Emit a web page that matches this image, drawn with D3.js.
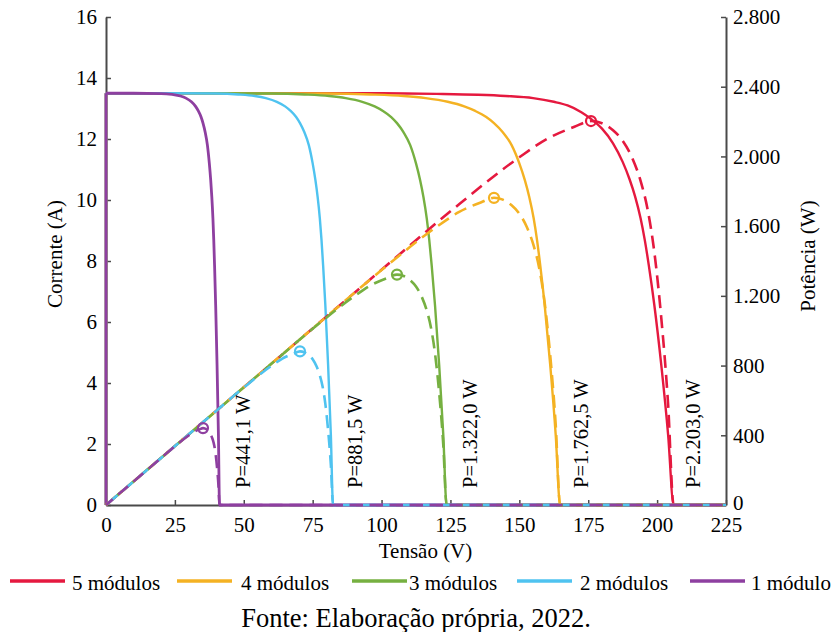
<!DOCTYPE html>
<html>
<head>
<meta charset="utf-8">
<script src="https://cdn.jsdelivr.net/npm/d3@7"></script>
<style>
  html, body { margin: 0; padding: 0; background: #fff; }
</style>
</head>
<body>
<svg id="chart" width="832" height="632"></svg>
<script>
// ---------------- data ----------------
const seriesNames = ["5 módulos", "4 módulos", "3 módulos", "2 módulos", "1 módulo"];
const seriesColors = ["#e5193f", "#f4b223", "#76b041", "#4fc3f0", "#8e3fa0"];

// I-V curves: voltage (V) and current (A)
const ivVolt5 = [0, 0, 50, 100, 120, 135, 145, 155, 162.5, 167.5, 172.5, 176, 180, 184, 187.5, 190, 192, 194, 195.5, 197, 199, 201.5, 204, 206, 225];
const ivVolt4 = [0, 0, 40, 80, 96, 108, 116, 124, 130, 134, 138, 140.8, 144, 147.2, 150, 152, 153.6, 155.2, 156.4, 157.6, 159.2, 161.2, 163.2, 164.8, 225];
const ivVolt3 = [0, 0, 30, 60, 72, 81, 87, 93, 97.5, 100.5, 103.5, 105.6, 108, 110.4, 112.5, 114, 115.2, 116.4, 117.3, 118.2, 119.4, 120.9, 122.4, 123.6, 225];
const ivVolt2 = [0, 0, 20, 40, 48, 54, 58, 62, 65, 67, 69, 70.4, 72, 73.6, 75, 76, 76.8, 77.6, 78.2, 78.8, 79.6, 80.6, 81.6, 82.4, 225];
const ivVolt1 = [0, 0, 10, 20, 24, 27, 29, 31, 32.5, 33.5, 34.5, 35.2, 36, 36.8, 37.5, 38, 38.4, 38.8, 39.1, 39.4, 39.8, 40.3, 40.8, 41.2, 225];
const ivAmp5 = [0, 13.5, 13.5, 13.5, 13.48, 13.45, 13.41, 13.34, 13.22, 13.1, 12.88, 12.66, 12.34, 11.86, 11.25, 10.68, 10.12, 9.4, 8.7, 7.85, 6.55, 4.6, 2.3, 0, 0];
const ivAmp4 = [0, 13.5, 13.5, 13.49, 13.46, 13.41, 13.34, 13.22, 13.07, 12.92, 12.72, 12.52, 12.22, 11.8, 11.2, 10.65, 10.1, 9.4, 8.7, 7.85, 6.55, 4.6, 2.3, 0, 0];
const ivAmp3 = [0, 13.5, 13.5, 13.49, 13.46, 13.41, 13.34, 13.22, 13.07, 12.92, 12.72, 12.52, 12.22, 11.8, 11.2, 10.65, 10.1, 9.4, 8.7, 7.85, 6.55, 4.6, 2.3, 0, 0];
const ivAmp2 = [0, 13.5, 13.5, 13.49, 13.46, 13.41, 13.34, 13.22, 13.07, 12.92, 12.72, 12.52, 12.22, 11.8, 11.2, 10.65, 10.1, 9.4, 8.7, 7.85, 6.55, 4.6, 2.3, 0, 0];
const ivAmp1 = [0, 13.5, 13.5, 13.49, 13.46, 13.41, 13.34, 13.22, 13.07, 12.92, 12.72, 12.52, 12.22, 11.8, 11.2, 10.65, 10.1, 9.4, 8.7, 7.85, 6.55, 4.6, 2.3, 0, 0];

// P-V curves: voltage (V) and power (W)
const pvVolt5 = [0, 50, 100, 125, 150, 160, 170, 176, 180, 184, 187.5, 191, 194, 196.5, 199, 201.5, 204, 206, 225];
const pvVolt4 = [0, 40, 80, 100, 120, 128, 136, 140.8, 144, 147.2, 150, 152.8, 155.2, 157.2, 159.2, 161.2, 163.2, 164.8, 225];
const pvVolt3 = [0, 30, 60, 75, 90, 96, 102, 105.6, 108, 110.4, 112.5, 114.6, 116.4, 117.9, 119.4, 120.9, 122.4, 123.6, 225];
const pvVolt2 = [0, 20, 40, 50, 60, 64, 68, 70.4, 72, 73.6, 75, 76.4, 77.6, 78.6, 79.6, 80.6, 81.6, 82.4, 225];
const pvVolt1 = [0, 10, 20, 25, 30, 32, 34, 35.2, 36, 36.8, 37.5, 38.2, 38.8, 39.3, 39.8, 40.3, 40.8, 41.2, 225];
const pvWatt5 = [0, 675, 1350, 1685, 1995, 2100, 2170, 2203, 2190, 2150, 2090, 1990, 1860, 1700, 1450, 1075, 575, 0, 0];
const pvWatt4 = [0, 540, 1080, 1348, 1596, 1680, 1736, 1762.5, 1752, 1720, 1672, 1592, 1488, 1360, 1160, 860, 460, 0, 0];
const pvWatt3 = [0, 405, 810, 1011, 1197, 1260, 1302, 1322, 1314, 1290, 1254, 1194, 1116, 1020, 870, 645, 345, 0, 0];
const pvWatt2 = [0, 270, 540, 674, 798, 840, 868, 881.5, 876, 860, 836, 796, 744, 680, 580, 430, 230, 0, 0];
const pvWatt1 = [0, 135, 270, 337, 399, 420, 434, 441.1, 438, 430, 418, 398, 372, 340, 290, 215, 115, 0, 0];

// maximum power points
const mppVolt = [176, 140.8, 105.6, 70.4, 35.2];
const mppWatt = [2203.0, 1762.5, 1322.0, 881.5, 441.1];
const mppText = ["P=2.203,0 W", "P=1.762,5 W", "P=1.322,0 W", "P=881,5 W", "P=441,1 W"];
const mppTextVolt = [215.6, 174.9, 134.6, 92.9, 52.3];
const mppTextAmp = 0.56;

const xTicks = [0, 25, 50, 75, 100, 125, 150, 175, 200, 225];
const yTicks = [0, 2, 4, 6, 8, 10, 12, 14, 16];
const y2Ticks = [0, 400, 800, 1200, 1600, 2000, 2400, 2800];

const xTitle = "Tensão (V)";
const yTitle = "Corrente (A)";
const y2Title = "Potência (W)";
const sourceText = "Fonte: Elaboração própria, 2022.";

// ---------------- drawing ----------------
const ivVolts = [ivVolt5, ivVolt4, ivVolt3, ivVolt2, ivVolt1];
const ivAmps = [ivAmp5, ivAmp4, ivAmp3, ivAmp2, ivAmp1];
const pvVolts = [pvVolt5, pvVolt4, pvVolt3, pvVolt2, pvVolt1];
const pvWatts = [pvWatt5, pvWatt4, pvWatt3, pvWatt2, pvWatt1];

const svg = d3.select("#chart");
const X0 = 106, X1 = 726, Y0 = 505, Y1 = 17;

const x = d3.scaleLinear().domain([0, 225]).range([X0, X1]);
const y = d3.scaleLinear().domain([0, 16]).range([Y0, Y1]);
const y2 = d3.scaleLinear().domain([0, 2800]).range([Y0, Y1]);

const ptLocale = d3.formatLocale({decimal: ",", thousands: ".", grouping: [3], currency: ["R$", ""]});
const fmtThousands = ptLocale.format(",d");

const axisColor = "#4a4a4a";

function styleText(sel, size) {
  return sel.attr("font-family", "Liberation Serif")
    .attr("font-size", size)
    .attr("style", "font-family:'Liberation Serif';font-size:" + size + "px")
    .attr("fill", "#000");
}

// axes
const gx = svg.append("g").attr("transform", `translate(0,${Y0})`)
  .call(d3.axisBottom(x).tickValues(xTicks).tickSizeInner(-5).tickSizeOuter(0).tickPadding(12));
const gy = svg.append("g").attr("transform", `translate(${X0},0)`)
  .call(d3.axisLeft(y).tickValues(yTicks).tickSizeInner(-5).tickSizeOuter(0).tickPadding(9));
const gy2 = svg.append("g").attr("transform", `translate(${X1},0)`)
  .call(d3.axisRight(y2).tickValues(y2Ticks).tickFormat(fmtThousands).tickSizeInner(-5).tickSizeOuter(0).tickPadding(7));

[gx, gy, gy2].forEach(g => {
  g.attr("font-family", "Liberation Serif").attr("font-size", 21);
  g.select(".domain").attr("stroke", axisColor).attr("stroke-width", 2);
  g.selectAll(".tick line").attr("stroke", axisColor).attr("stroke-width", 1.5);
  styleText(g.selectAll(".tick text"), 21);
});
// right-axis "0" label sits slightly higher so it does not touch the "225" label
gy2.selectAll(".tick text").filter(d => d === 0).attr("dy", "0.2em");

// solid I-V curves
const ivCurve = d3.line().x(d => x(d[0])).y(d => y(d[1])).curve(d3.curveMonotoneX);
const ivStart = d3.line().x(d => x(d[0])).y(d => y(d[1]));
const pvLine = d3.line().x(d => x(d[0])).y(d => y2(d[1])).curve(d3.curveMonotoneX);

seriesNames.forEach((name, i) => {
  const pts = ivVolts[i].map((v, k) => [v, ivAmps[i][k]]);
  const w = i === 4 ? 2.8 : 2.4;
  svg.append("path")
    .attr("d", ivStart(pts.slice(0, 2)))
    .attr("fill", "none").attr("stroke", seriesColors[i]).attr("stroke-width", w);
  svg.append("path")
    .attr("d", ivCurve(pts.slice(1)))
    .attr("fill", "none").attr("stroke", seriesColors[i]).attr("stroke-width", w)
    .attr("stroke-linejoin", "round");
});

// dashed P-V curves
seriesNames.forEach((name, i) => {
  const pts = pvVolts[i].map((v, k) => [v, pvWatts[i][k]]);
  svg.append("path")
    .attr("d", pvLine(pts))
    .attr("fill", "none").attr("stroke", seriesColors[i]).attr("stroke-width", 2.6)
    .attr("stroke-dasharray", "13,7").attr("stroke-dashoffset", i * 6);
});

// MPP circles
seriesNames.forEach((name, i) => {
  svg.append("circle")
    .attr("cx", x(mppVolt[i])).attr("cy", y2(mppWatt[i])).attr("r", 5)
    .attr("fill", "none").attr("stroke", seriesColors[i]).attr("stroke-width", 2.2);
});

// MPP labels
seriesNames.forEach((name, i) => {
  const tx = x(mppTextVolt[i]), ty = y(mppTextAmp);
  styleText(svg.append("text"), 20.5)
    .attr("transform", `translate(${tx},${ty}) rotate(-90)`)
    .attr("text-anchor", "start")
    .text(mppText[i]);
});

// axis titles
styleText(svg.append("text"), 21).attr("x", 425.5).attr("y", 558).attr("text-anchor", "middle").text(xTitle);
styleText(svg.append("text"), 21).attr("transform", `translate(62,254) rotate(-90)`).attr("text-anchor", "middle").text(yTitle);
styleText(svg.append("text"), 21).attr("transform", `translate(815,256) rotate(-90)`).attr("text-anchor", "middle").text(y2Title);

// legend
const legendLineX = [10, 177, 352, 517, 690];
const legendTextX = [72, 241, 409, 580, 751];
const legendY = 581;
seriesNames.forEach((name, i) => {
  svg.append("line")
    .attr("x1", legendLineX[i]).attr("x2", legendLineX[i] + 55)
    .attr("y1", legendY).attr("y2", legendY)
    .attr("stroke", seriesColors[i]).attr("stroke-width", 3.5);
  styleText(svg.append("text"), 21).attr("x", legendTextX[i]).attr("y", 590).text(name);
});

// source
styleText(svg.append("text"), 26.5).attr("x", 416).attr("y", 627).attr("text-anchor", "middle").text(sourceText);
</script>
</body>
</html>
